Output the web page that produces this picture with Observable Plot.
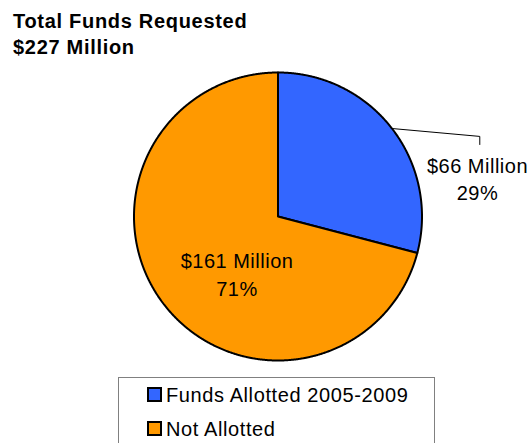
<!DOCTYPE html>
<html>
<head>
<meta charset="utf-8">
<script src="https://cdn.jsdelivr.net/npm/d3@7"></script>
<script src="https://cdn.jsdelivr.net/npm/@observablehq/plot@0.6"></script>
<style>
  body { margin: 0; background: #fff; font-family: "Liberation Sans", Arial, sans-serif; }
  #wrap { position: relative; width: 532px; height: 443px; overflow: hidden; }
  #title { position: absolute; left: 13px; top: 8px; font-weight: bold; font-size: 20px; line-height: 26px; color: #000; letter-spacing: 0.7px; }
  #chart { position: absolute; left: 0; top: 0; }
  #chart svg text { letter-spacing: 0.5px; }
  #legend { position: absolute; left: 118px; top: 377px; width: 315px; height: 90px; border: 1px solid #808080; background: #fff; }
  .row { height: 34px; line-height: 34px; font-size: 20px; padding-left: 28px; color: #000; white-space: nowrap; letter-spacing: 0.6px; }
  .sw { display: inline-block; width: 11px; height: 11px; border: 2px solid #000; margin-right: 4px; }
</style>
</head>
<body>
<div id="wrap">
  <div id="chart"></div>
  <div id="title">Total Funds Requested<br>$227 Million</div>
  <div id="legend"></div>
</div>
<script>
const categories = ["Funds Allotted 2005-2009", "Not Allotted"];
const values = [66, 161];
const amountLabels = ["$66 Million", "$161 Million"];
const percentLabels = ["29%", "71%"];
const colors = ["#3366FF", "#FF9900"];

const W = 532, H = 443;
const cx = 277.5, cy = 216, R = 144;

const data = categories.map((c, i) => ({category: c, value: values[i], label: amountLabels[i] + "\n" + percentLabels[i]}));
const arcs = d3.pie().sort(null).value(d => d.value)(data);

// slice outlines (geometry from pie angles)
const pts = [];
arcs.forEach(a => {
  const c = a.data.category;
  pts.push({category: c, x: 0, y: 0});
  const step = Math.PI / 720;
  const n = Math.ceil((a.endAngle - a.startAngle) / step);
  for (let k = 0; k <= n; k++) {
    const t = a.startAngle + (a.endAngle - a.startAngle) * k / n;
    pts.push({category: c, x: R * Math.sin(t), y: R * Math.cos(t)});
  }
  pts.push({category: c, x: 0, y: 0});
});

const mid = a => (a.startAngle + a.endAngle) / 2;
const blue = arcs[0], orange = arcs[1];
const bm = mid(blue), om = mid(orange);
const bx = R * Math.sin(bm), by = R * Math.cos(bm);
const leader = [
  {x: bx, y: by},
  {x: bx + 87.8, y: by - 7.9},
  {x: bx + 87.8, y: by - 16}
];
const blueLabel = [{x: bx, y: by, label: blue.data.label}];
const orangeLabel = [{x: 0.5 * R * Math.sin(om), y: 0.5 * R * Math.cos(om), label: orange.data.label}];

const chart = Plot.plot({
  width: W, height: H,
  margin: 0,
  x: {domain: [-cx, W - cx], axis: null},
  y: {domain: [-(H - cy), cy], axis: null},
  color: {domain: categories, range: colors},
  style: {fontFamily: "'Liberation Sans', Arial, sans-serif", background: "transparent"},
  marks: [
    Plot.line(pts, {x: "x", y: "y", z: "category", fill: "category", stroke: "#000", strokeWidth: 2, strokeLinejoin: "round", curve: "linear"}),
    Plot.line(leader, {x: "x", y: "y", stroke: "#000", strokeWidth: 1}),
    Plot.text(blueLabel, {x: "x", y: "y", text: "label", dx: 85.5, dy: 49, fontSize: 20, lineHeight: 1.375, lineAnchor: "middle", fill: "#000"}),
    Plot.text(orangeLabel, {x: "x", y: "y", text: "label", dx: 16, dy: 12.5, fontSize: 20, lineHeight: 1.375, lineAnchor: "middle", fill: "#000"})
  ]
});
document.getElementById("chart").appendChild(chart);

const legend = document.getElementById("legend");
categories.forEach((c, i) => {
  const row = document.createElement("div");
  row.className = "row";
  const sw = document.createElement("span");
  sw.className = "sw";
  sw.style.background = colors[i];
  row.appendChild(sw);
  row.appendChild(document.createTextNode(c));
  legend.appendChild(row);
});
</script>
</body>
</html>
